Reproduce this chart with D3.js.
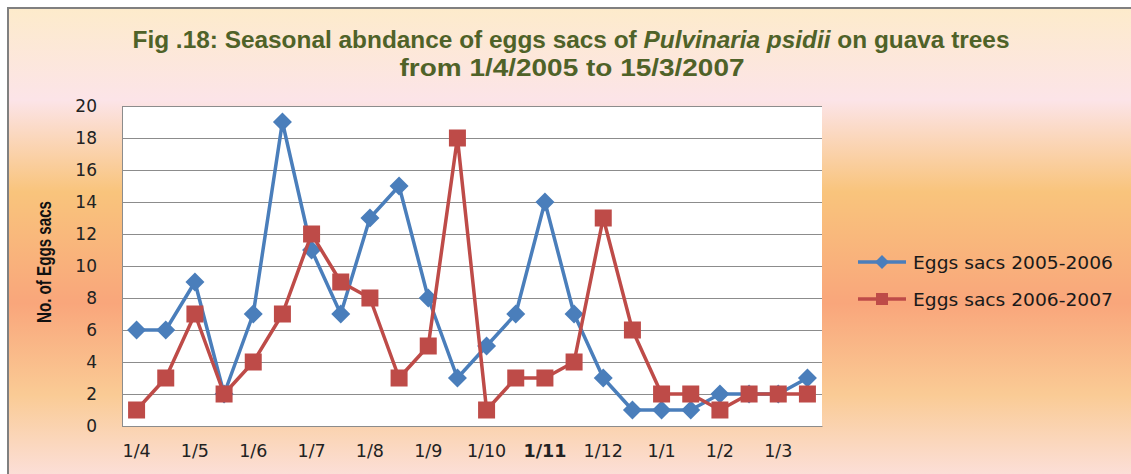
<!DOCTYPE html>
<html>
<head>
<meta charset="utf-8">
<script src="https://cdn.jsdelivr.net/npm/d3@7"></script>
<style>
  html, body { margin: 0; padding: 0; background: #ffffff; }
  svg { display: block; }
</style>
</head>
<body>
<svg id="chart" width="1131" height="474"></svg>
<script>
// ---- data ----
const categories = ["1/4","15/4","1/5","15/5","1/6","15/6","1/7","15/7","1/8","15/8","1/9","15/9",
                    "1/10","15/10","1/11","15/11","1/12","15/12","1/1","15/1","1/2","15/2","1/3","15/3"];
const tickLabels = ["1/4","1/5","1/6","1/7","1/8","1/9","1/10","1/11","1/12","1/1","1/2","1/3"];
const series2005 = [6,6,9,2,7,19,11,7,13,15,8,3,5,7,14,7,3,1,1,1,2,2,2,3];
const series2006 = [1,3,7,2,4,7,12,9,8,3,5,18,1,3,3,4,13,6,2,2,1,2,2,2];
const seriesNames = ["Eggs sacs 2005-2006", "Eggs sacs 2006-2007"];
const yTicks = [0,2,4,6,8,10,12,14,16,18,20];

const W = 1131, H = 474;
const plot = { left: 122, right: 822, top: 106, bottom: 426 };
const blue = "#4A7EBB", red = "#BE4B48";

const svg = d3.select("#chart");
const defs = svg.append("defs");
const grad = defs.append("linearGradient").attr("id", "bg")
  .attr("x1", 0).attr("y1", 0).attr("x2", 0).attr("y2", 1);
[[0, "#FDEBCB"], [0.19, "#FCE4E8"], [0.38, "#F9C47C"], [0.61, "#F9A67B"],
 [0.80, "#FACB95"], [1, "#FCE3E6"]].forEach(([o, c]) =>
  grad.append("stop").attr("offset", o).attr("stop-color", c));

// chart area
svg.append("rect").attr("x", 8).attr("y", 8).attr("width", W + 10).attr("height", H + 10)
  .attr("fill", "url(#bg)").attr("stroke", "#808080").attr("stroke-width", 2);

// plot area
svg.append("rect").attr("x", plot.left).attr("y", plot.top)
  .attr("width", plot.right - plot.left).attr("height", plot.bottom - plot.top)
  .attr("fill", "#ffffff");

const x = d3.scaleBand().domain(categories).range([plot.left, plot.right]);
const cx = d => x(d) + x.bandwidth() / 2;
const y = d3.scaleLinear().domain([0, 20]).range([plot.bottom, plot.top]);

// gridlines
svg.append("g").selectAll("line").data(yTicks).join("line")
  .attr("x1", plot.left).attr("x2", plot.right)
  .attr("y1", d => Math.round(y(d)) + 0.5).attr("y2", d => Math.round(y(d)) + 0.5)
  .attr("stroke", "#8C8C8C").attr("stroke-width", 1);

// y axis
const yAxis = svg.append("g").attr("transform", `translate(${plot.left},0)`)
  .call(d3.axisLeft(y).tickValues(yTicks).tickSize(0).tickPadding(25));
yAxis.select(".domain").attr("stroke", "#8C8C8C");
yAxis.selectAll("text").attr("font-family", "DejaVu Sans").attr("font-size", 17)
  .attr("fill", "#222");

// x axis
const xAxis = svg.append("g").attr("transform", `translate(0,${plot.bottom})`)
  .call(d3.axisBottom(x).tickValues(tickLabels).tickSize(0).tickPadding(19));
xAxis.select(".domain").attr("stroke", "#8C8C8C");
xAxis.selectAll("text").attr("font-family", "DejaVu Sans").attr("font-size", 17.5)
  .attr("fill", "#222")
  .attr("font-weight", d => d === "1/11" ? "bold" : null);

// lines
const line = d3.line().x((d, i) => cx(categories[i])).y(d => y(d));
const diamond = s => `M0,${-s}L${s},0L0,${s}L${-s},0Z`;

function drawSeries(vals, color, shape) {
  svg.append("path").datum(vals).attr("d", line).attr("fill", "none")
    .attr("stroke", color).attr("stroke-width", 3.5).attr("stroke-linejoin", "round");
  const g = svg.append("g");
  vals.forEach((v, i) => {
    const px = cx(categories[i]), py = y(v);
    if (shape === "diamond") {
      g.append("path").attr("d", diamond(9.5)).attr("transform", `translate(${px},${py})`)
        .attr("fill", color);
    } else {
      g.append("rect").attr("x", px - 8.5).attr("y", py - 8.5).attr("width", 17).attr("height", 17)
        .attr("fill", color);
    }
  });
}
drawSeries(series2005, blue, "diamond");
drawSeries(series2006, red, "square");

// legend
const leg = svg.append("g");
[[blue, "diamond", 262], [red, "square", 299]].forEach(([c, s, ly], i) => {
  leg.append("line").attr("x1", 858).attr("x2", 906).attr("y1", ly).attr("y2", ly)
    .attr("stroke", c).attr("stroke-width", 3.5);
  if (s === "diamond") leg.append("path").attr("d", diamond(7)).attr("transform", `translate(882,${ly})`).attr("fill", c);
  else leg.append("rect").attr("x", 876).attr("y", ly - 6).attr("width", 12).attr("height", 12).attr("fill", c);
  leg.append("text").attr("x", 913).attr("y", ly).attr("dy", "0.36em")
    .attr("font-family", "DejaVu Sans").attr("font-size", 18.5).attr("fill", "#1a1a1a")
    .attr("textLength", 200).attr("lengthAdjust", "spacingAndGlyphs")
    .text(seriesNames[i]);
});

// y title
svg.append("text").attr("transform", "translate(51,262) rotate(-90)")
  .attr("text-anchor", "middle").attr("font-family", "Liberation Sans").attr("font-weight", "bold")
  .attr("font-size", 19.5).attr("fill", "#111")
  .attr("textLength", 122).attr("lengthAdjust", "spacingAndGlyphs")
  .text("No. of Eggs sacs");

// title
const t1 = svg.append("text").attr("x", 571).attr("y", 48).attr("text-anchor", "middle")
  .attr("font-family", "Liberation Sans").attr("font-weight", "bold").attr("font-size", 24)
  .attr("fill", "#4F6228").attr("textLength", 877).attr("lengthAdjust", "spacingAndGlyphs");
t1.append("tspan").text("Fig .18: Seasonal abndance  of eggs sacs of ");
t1.append("tspan").attr("font-style", "italic").text("Pulvinaria psidii");
t1.append("tspan").text(" on guava trees");
svg.append("text").attr("x", 572).attr("y", 76).attr("text-anchor", "middle")
  .attr("font-family", "Liberation Sans").attr("font-weight", "bold").attr("font-size", 24)
  .attr("fill", "#4F6228").attr("textLength", 345).attr("lengthAdjust", "spacingAndGlyphs")
  .text("from 1/4/2005 to 15/3/2007");
</script>
</body>
</html>
